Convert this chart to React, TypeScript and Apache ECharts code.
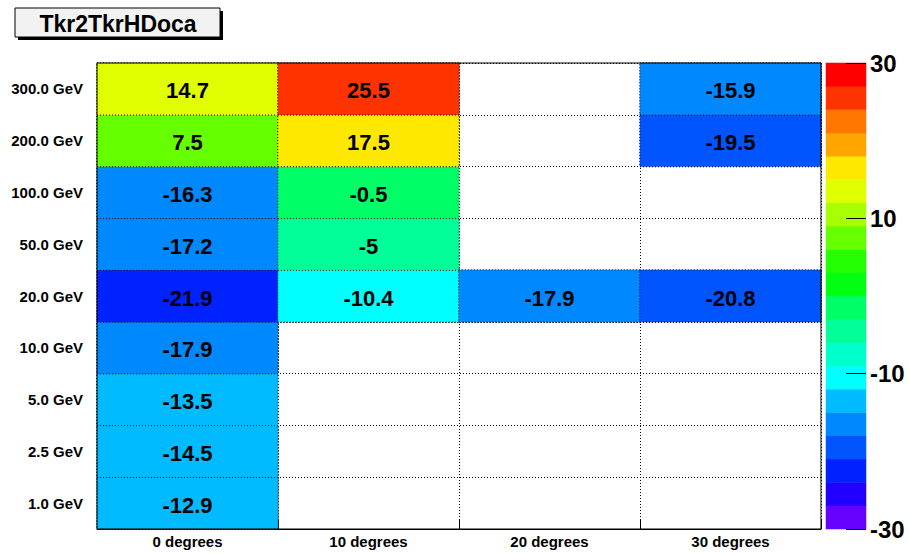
import React, { useEffect, useRef } from "react";
import * as echarts from "echarts";

const columns = ["0 degrees", "10 degrees", "20 degrees", "30 degrees"];
const rows = ["1.0 GeV", "2.5 GeV", "5.0 GeV", "10.0 GeV", "20.0 GeV", "50.0 GeV", "100.0 GeV", "200.0 GeV", "300.0 GeV"];
// values per column, bottom row first (null = empty)
const deg0 = [-12.9, -14.5, -13.5, -17.9, -21.9, -17.2, -16.3, 7.5, 14.7];
const deg10 = [null, null, null, null, -10.4, -5, -0.5, 17.5, 25.5];
const deg20 = [null, null, null, null, -17.9, null, null, null, null];
const deg30 = [null, null, null, null, -20.8, null, null, -19.5, -15.9];
const bandColors = [
  "#6600ff", "#2200ff", "#0022ff", "#0055ff", "#0088ff", "#00bbff", "#00ffff",
  "#00ffcc", "#00ff99", "#00ff66", "#00ff11", "#22ff00", "#66ff00", "#a8ff00",
  "#e0ff00", "#ffe800", "#ffa500", "#ff7700", "#ff3300", "#ff0000",
];
const zMin = -30;
const zMax = 30;

export default function App() {
  const ref = useRef<HTMLDivElement>(null);
  useEffect(() => {
    const chart = echarts.init(ref.current!, null, { renderer: "svg" });
    const cols = [deg0, deg10, deg20, deg30];
    const data: any[] = [];
    cols.forEach((c, xi) =>
      c.forEach((v, yi) => {
        if (v !== null) data.push([xi, yi, v]);
      })
    );
    const step = (zMax - zMin) / bandColors.length;
    const pieces = bandColors.map((color, i) => ({
      gte: zMin + i * step,
      lt: zMin + (i + 1) * step,
      color,
    }));
    const bandIdx = bandColors.map((_, i) => String(i));
    const barData = bandColors.map((_, i) => [0, i, zMin + (i + 0.5) * step]);
    const font = "Liberation Sans, Arial, sans-serif";

    chart.setOption({
      animation: false,
      backgroundColor: "#fff",
      textStyle: { fontFamily: font },
      grid: [
        { left: 97, top: 63, width: 724, height: 466, show: true, borderColor: "#000", borderWidth: 1, backgroundColor: "transparent", z: 5 },
        { left: 826, top: 63, width: 40, height: 466 },
      ],
      xAxis: [
        {
          type: "category",
          gridIndex: 0,
          data: columns,
          axisLine: { lineStyle: { color: "#000", width: 1 } },
          axisTick: { show: true, inside: true, length: 10, lineStyle: { color: "#000" } },
          axisLabel: { color: "#000", fontWeight: "bold", fontSize: 15, fontFamily: font, margin: 5 },
          splitLine: { show: true, lineStyle: { color: "#000", type: [1, 2], width: 1 } },
        },
        { type: "category", gridIndex: 1, data: ["c"], show: false },
      ],
      yAxis: [
        {
          type: "category",
          gridIndex: 0,
          data: rows,
          axisLine: { lineStyle: { color: "#000", width: 1 } },
          axisTick: { show: true, inside: true, length: 17, lineStyle: { color: "#000" } },
          axisLabel: { color: "#000", fontWeight: "bold", fontSize: 15, fontFamily: font, margin: 14 },
          splitLine: { show: true, lineStyle: { color: "#000", type: [1, 2], width: 1 } },
        },
        { type: "category", gridIndex: 1, data: bandIdx, show: false },
        {
          type: "value",
          gridIndex: 1,
          position: "right",
          min: 0,
          max: zMax - zMin,
          interval: 20,
          axisLine: { show: false },
          axisTick: { show: true, inside: true, length: 20, lineStyle: { color: "#000", width: 1 } },
          axisLabel: {
            color: "#000",
            fontWeight: "bold",
            fontSize: 24,
            fontFamily: font,
            margin: 4,
            formatter: (v: number) => String(v + zMin),
          },
          splitLine: { show: false },
          z: 10,
        },
      ],
      visualMap: {
        type: "piecewise",
        show: false,
        pieces,
        seriesIndex: [0, 1],
        dimension: 2,
      },
      series: [
        {
          type: "heatmap",
          xAxisIndex: 0,
          yAxisIndex: 0,
          data,
          itemStyle: { borderColor: "#000", borderWidth: 1, borderType: [1, 2] },
          label: {
            show: true,
            color: "#000",
            fontWeight: "bold",
            fontSize: 22,
            fontFamily: font,
            offset: [0, 2],
            formatter: (p: any) => String(p.value[2]),
          },
          emphasis: { disabled: true },
        },
        {
          type: "heatmap",
          xAxisIndex: 1,
          yAxisIndex: 1,
          data: barData,
          emphasis: { disabled: true },
        },
      ],
      graphic: [
        { type: "rect", shape: { x: 18, y: 11, width: 205, height: 29 }, style: { fill: "#000" }, z: 100 },
        { type: "rect", shape: { x: 15, y: 8, width: 205, height: 29 }, style: { fill: "#f2f2f2", stroke: "#000", lineWidth: 1 }, z: 101 },
        {
          type: "text",
          x: 118,
          y: 24,
          style: { text: "Tkr2TkrHDoca", font: "bold 23px Liberation Sans, Arial, sans-serif", fill: "#000", textAlign: "center", textVerticalAlign: "middle" },
          z: 102,
        },
      ],
    });
    return () => chart.dispose();
  }, []);
  return <div ref={ref} style={{ position: "fixed", left: 0, top: 0, width: 909, height: 554 }} />;
}
